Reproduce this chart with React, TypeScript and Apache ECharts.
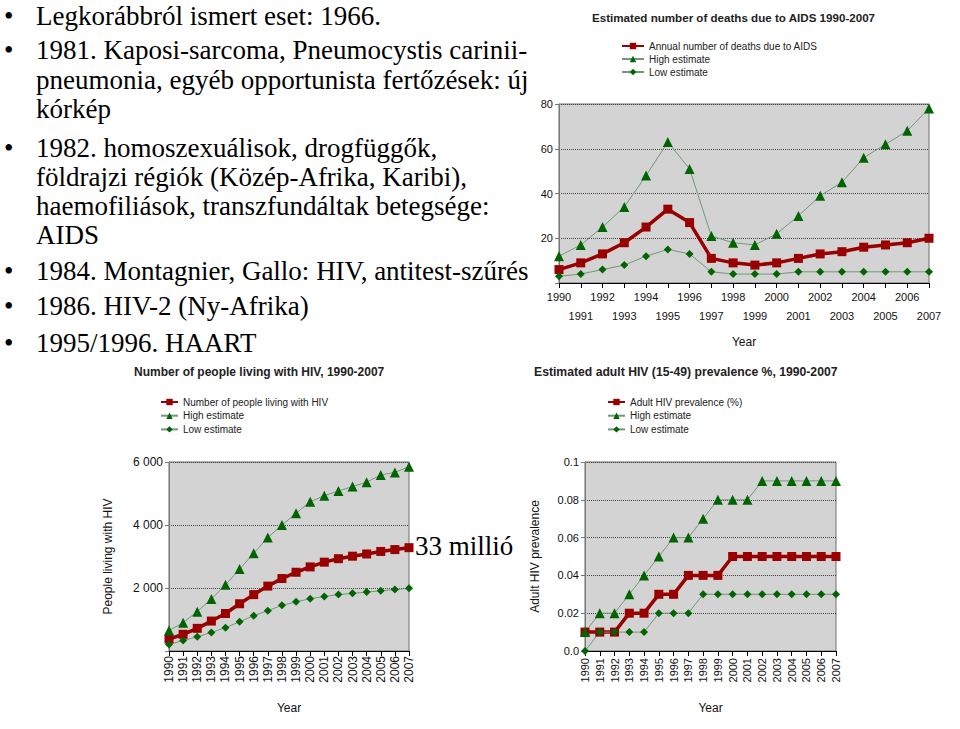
import React, { useEffect, useRef } from 'react';
import * as echarts from 'echarts';

const years = ['1990','1991','1992','1993','1994','1995','1996','1997','1998','1999','2000','2001','2002','2003','2004','2005','2006','2007'];

const deathsMain = [6, 9, 13, 18, 25, 33, 27, 11, 9, 8, 9, 11, 13, 14, 16, 17, 18, 20];
const deathsHigh = [12, 17, 25, 34, 48, 63, 51, 21, 18, 17, 22, 30, 39, 45, 56, 62, 68, 78];
const deathsLow = [3, 4, 6, 8, 12, 15, 13, 5, 4, 4, 4, 5, 5, 5, 5, 5, 5, 5];

const livingMain = [380, 530, 720, 950, 1190, 1500, 1790, 2060, 2300, 2500, 2670, 2820, 2930, 3010, 3080, 3160, 3220, 3280];
const livingHigh = [650, 900, 1250, 1650, 2100, 2600, 3100, 3600, 4000, 4370, 4740, 4930, 5080, 5220, 5360, 5590, 5670, 5850];
const livingLow = [210, 330, 450, 590, 740, 930, 1120, 1280, 1450, 1560, 1660, 1730, 1790, 1830, 1870, 1910, 1950, 1990];

const prevMain = [0.01, 0.01, 0.01, 0.02, 0.02, 0.03, 0.03, 0.04, 0.04, 0.04, 0.05, 0.05, 0.05, 0.05, 0.05, 0.05, 0.05, 0.05];
const prevHigh = [0.01, 0.02, 0.02, 0.03, 0.04, 0.05, 0.06, 0.06, 0.07, 0.08, 0.08, 0.08, 0.09, 0.09, 0.09, 0.09, 0.09, 0.09];
const prevLow = [0, 0.01, 0.01, 0.01, 0.01, 0.02, 0.02, 0.02, 0.03, 0.03, 0.03, 0.03, 0.03, 0.03, 0.03, 0.03, 0.03, 0.03];

const chartTitles = [
  'Estimated number of deaths due to AIDS 1990-2007',
  'Number of people living with HIV, 1990-2007',
  'Estimated adult HIV (15-49) prevalence %, 1990-2007',
];
const mainNames = ['Annual number of deaths due to AIDS', 'Number of people living with HIV', 'Adult HIV prevalence (%)'];
const highName = 'High estimate';
const lowName = 'Low estimate';
const xName = 'Year';
const yNames = ['', 'People living with HIV', 'Adult HIV prevalence'];

const bulletTexts = [
  { bullet: true, text: 'Legkorábbról ismert eset: 1966.' },
  { bullet: true, text: '1981. Kaposi-sarcoma, Pneumocystis carinii-' },
  { bullet: false, text: 'pneumonia, egyéb opportunista fertőzések: új' },
  { bullet: false, text: 'kórkép' },
  { bullet: true, text: '1982. homoszexuálisok, drogfüggők,' },
  { bullet: false, text: 'földrajzi régiók (Közép-Afrika, Karibi),' },
  { bullet: false, text: 'haemofiliások, transzfundáltak betegsége:' },
  { bullet: false, text: 'AIDS' },
  { bullet: true, text: '1984. Montagnier, Gallo: HIV, antitest-szűrés' },
  { bullet: true, text: '1986. HIV-2 (Ny-Afrika)' },
  { bullet: true, text: '1995/1996. HAART' },
];
const noteText = '33 millió';

const SANS = 'Liberation Sans';
const SERIF = 'Liberation Serif';
const RED = '#990000';
const GREEN = '#006400';
const GREEN_LINE = '#74977a';
const SERIF_SIZE = 27;

const bulletBaselines = [25, 59, 89, 118, 157, 186, 215, 244, 280, 315, 352];

function mkSeries(idx: number, main: number[], high: number[], low: number[]) {
  return [
    {
      name: mainNames[idx], type: 'line', xAxisIndex: idx, yAxisIndex: idx, data: main,
      symbol: 'rect', symbolSize: 9, showAllSymbol: true,
      lineStyle: { color: RED, width: 3.5 }, itemStyle: { color: RED },
    },
    {
      name: highName, type: 'line', xAxisIndex: idx, yAxisIndex: idx, data: high,
      symbol: 'triangle', symbolSize: 10, showAllSymbol: true,
      lineStyle: { color: GREEN_LINE, width: 1 }, itemStyle: { color: GREEN },
    },
    {
      name: lowName, type: 'line', xAxisIndex: idx, yAxisIndex: idx, data: low,
      symbol: 'diamond', symbolSize: 8, showAllSymbol: true,
      lineStyle: { color: GREEN_LINE, width: 1 }, itemStyle: { color: GREEN },
    },
  ];
}

export default function App() {
  const ref = useRef<HTMLDivElement>(null);
  useEffect(() => {
    if (!ref.current) return;
    const chart = echarts.init(ref.current, null, { renderer: 'svg' });

    const grids = [
      { left: 559, top: 104, width: 370, height: 179 },
      { left: 169, top: 462, width: 240, height: 189 },
      { left: 585, top: 462, width: 251, height: 189 },
    ].map((g) => ({ ...g, show: true, backgroundColor: '#d3d3d3', borderColor: '#6e6e6e', borderWidth: 1 }));

    const baseX = (idx: number) => ({
      type: 'category', gridIndex: idx, data: years, boundaryGap: false,
      axisLine: { lineStyle: { color: '#000', width: 1 } },
      axisTick: { show: true, interval: 0, length: 5, lineStyle: { color: '#000' } },
      name: xName, nameLocation: 'middle',
      nameTextStyle: { fontFamily: SANS, fontSize: 12, color: '#111' },
    });

    const xAxes = [
      {
        ...baseX(0), nameGap: 53,
        axisLabel: {
          interval: 0, fontFamily: SANS, fontSize: 11, color: '#111', margin: 4, lineHeight: 19,
          formatter: (v: string, i: number) => (i % 2 ? '\n' + v : v),
        },
      },
      {
        ...baseX(1), nameGap: 51,
        axisLabel: { interval: 0, rotate: 90, fontFamily: SANS, fontSize: 12, color: '#111', margin: 5 },
      },
      {
        ...baseX(2), nameGap: 51,
        axisLabel: { interval: 0, rotate: 90, fontFamily: SANS, fontSize: 11, color: '#111', margin: 7 },
      },
    ];

    const baseY = (idx: number) => ({
      type: 'value', gridIndex: idx, min: 0,
      axisLine: { show: true, lineStyle: { color: '#777', width: 1 } },
      axisTick: { show: true, length: 4, lineStyle: { color: '#777' } },
      splitLine: { show: true, lineStyle: { color: '#444', type: 'dotted', width: 1 } },
      nameLocation: 'middle', nameRotate: 90,
      nameTextStyle: { fontFamily: SANS, fontSize: 12, color: '#111' },
    });

    const yAxes = [
      {
        ...baseY(0), max: 80, interval: 20,
        axisLabel: { fontFamily: SANS, fontSize: 11, color: '#111', margin: 6, formatter: (v: number) => (v === 0 ? '' : String(v)) },
      },
      {
        ...baseY(1), max: 6000, interval: 2000, name: yNames[1], nameGap: 55,
        axisLabel: {
          fontFamily: SANS, fontSize: 12, color: '#111', margin: 6,
          formatter: (v: number) => (v === 0 ? '' : String(v).replace(/(\d)(\d{3})$/, '$1 $2')),
        },
      },
      {
        ...baseY(2), max: 0.1, interval: 0.02, name: yNames[2], nameGap: 44,
        axisLabel: {
          fontFamily: SANS, fontSize: 11, color: '#111', margin: 6,
          formatter: (v: number) => {
            const r = Math.round(v * 100) / 100;
            if (r === 0) return '0.0';
            if (r === 0.1) return '0.1';
            return r.toFixed(2);
          },
        },
      },
    ];

    const titleStyle = (size: number) => ({ fontFamily: SANS, fontSize: size, fontWeight: 'bold', color: '#222' });
    const titles = [
      { text: chartTitles[0], left: 592, top: 11, padding: 0, textStyle: titleStyle(11.6) },
      { text: chartTitles[1], left: 134, top: 366, padding: 0, textStyle: titleStyle(12) },
      { text: chartTitles[2], left: 534, top: 366, padding: 0, textStyle: titleStyle(12.2) },
    ];

    const legendText = { fontFamily: SANS, fontSize: 10, color: '#222' };
    const legends = [
      { orient: 'vertical', left: 621, top: 41, padding: 0, itemWidth: 22, itemHeight: 8, itemGap: 3, textStyle: legendText, data: [mainNames[0], highName, lowName], selectedMode: false },
      { orient: 'vertical', left: 160, top: 397, padding: 0, itemWidth: 17, itemHeight: 8, itemGap: 3.7, textStyle: legendText, data: [mainNames[1], highName, lowName], selectedMode: false },
      { orient: 'vertical', left: 607, top: 397, padding: 0, itemWidth: 17, itemHeight: 8, itemGap: 3.7, textStyle: legendText, data: [mainNames[2], highName, lowName], selectedMode: false },
    ];

    const CENTRAL = 0.3375 * SERIF_SIZE;
    const graphics: any[] = [];
    bulletTexts.forEach((b, i) => {
      const y = bulletBaselines[i] - CENTRAL;
      if (b.bullet) {
        graphics.push({ type: 'text', x: 4, y, style: { text: '•', fontFamily: SERIF, fontSize: SERIF_SIZE, fill: '#000', verticalAlign: 'middle' } });
      }
      graphics.push({ type: 'text', x: 36, y, style: { text: b.text, fontFamily: SERIF, fontSize: SERIF_SIZE, fill: '#000', verticalAlign: 'middle' } });
    });
    graphics.push({ type: 'text', x: 415, y: 555 - CENTRAL, z: 100, style: { text: noteText, fontFamily: SERIF, fontSize: SERIF_SIZE, fill: '#000', verticalAlign: 'middle' } });

    chart.setOption({
      animation: false,
      backgroundColor: '#fff',
      title: titles,
      legend: legends,
      grid: grids,
      xAxis: xAxes,
      yAxis: yAxes,
      series: [
        ...mkSeries(0, deathsMain, deathsHigh, deathsLow),
        ...mkSeries(1, livingMain, livingHigh, livingLow),
        ...mkSeries(2, prevMain, prevHigh, prevLow),
      ],
      graphic: graphics,
    });
    return () => chart.dispose();
  }, []);
  return <div ref={ref} style={{ position: 'absolute', left: 0, top: 0, width: 960, height: 729 }} />;
}
